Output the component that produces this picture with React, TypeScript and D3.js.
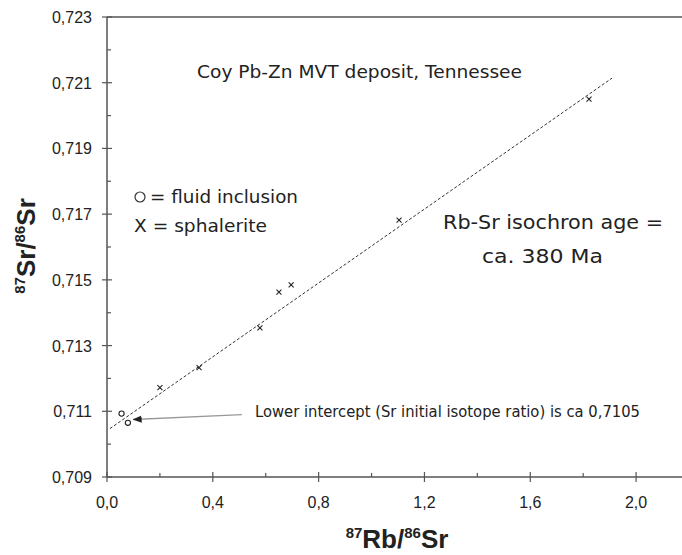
import * as d3 from "d3";

// sphalerite (X) samples: 87Rb/86Sr vs 87Sr/86Sr
const sphRb = [0.2, 0.348, 0.578, 0.65, 0.696, 1.104, 1.822];
const sphSr = [0.71172, 0.71233, 0.71354, 0.71463, 0.71485, 0.71682, 0.7205];
// fluid inclusion (o) samples
const fiRb = [0.055, 0.079];
const fiSr = [0.71093, 0.71065];
// isochron fit
const isoX = [0.011, 1.909];
const isoIntercept = 0.71041;
const isoSlope = 0.00562;

const yTicks = [0.709, 0.711, 0.713, 0.715, 0.717, 0.719, 0.721, 0.723];
const yMinor = [0.71, 0.712, 0.714, 0.716, 0.718, 0.72, 0.722];
const xTicks = [0, 0.4, 0.8, 1.2, 1.6, 2.0];
const xMinor = [0.2, 0.6, 1.0, 1.4, 1.8];

const W = 682;
const H = 555;
const axisColor = "#555";
const textFont = "'DejaVu Sans', 'Noto Sans', sans-serif";
const tickFont = "'Liberation Sans', Arial, sans-serif";

export default function App() {
  const x = d3.scaleLinear().domain([0, 2.2]).range([107, 689]);
  const y = d3.scaleLinear().domain([0.709, 0.723]).range([477, 17]);
  const fmt = (v: number, d: number) => v.toFixed(d).replace(".", ",");

  const isoLine = d3
    .line<number>()
    .x((d) => x(d))
    .y((d) => y(isoIntercept + isoSlope * d));

  const arrowFrom = [0.51, 0.7109];
  const arrowTo = [0.1, 0.71075];

  return (
    <svg
      width={W}
      height={H}
      style={{ position: "absolute", left: 0, top: 0, background: "#fff" }}
    >
      <defs>
        <marker
          id="ah"
          viewBox="0 0 10 10"
          refX="9"
          refY="5"
          markerWidth="7"
          markerHeight="7"
          orient="auto"
        >
          <path d="M0,1 L10,5 L0,9 Z" fill="#222" />
        </marker>
      </defs>

      {/* frame: top line, left axis, bottom axis */}
      <line x1={x(0)} x2={W} y1={y(0.723)} y2={y(0.723)} stroke={axisColor} strokeWidth={1.5} />
      <line x1={x(0)} x2={x(0)} y1={y(0.723)} y2={y(0.709)} stroke={axisColor} strokeWidth={1.5} />
      <line x1={x(0)} x2={W} y1={y(0.709)} y2={y(0.709)} stroke={axisColor} strokeWidth={1.5} />

      {yTicks.map((t) => (
        <g key={"y" + t}>
          <line x1={x(0) - 5} x2={x(0) + 5} y1={y(t)} y2={y(t)} stroke={axisColor} strokeWidth={1.2} />
          <text
            x={x(0) - 15}
            y={y(t) + 6}
            textAnchor="end"
            fontFamily={tickFont}
            fontSize={16}
            fill="#222"
          >
            {fmt(t, 3)}
          </text>
        </g>
      ))}
      {yMinor.map((t) => (
        <line key={"ym" + t} x1={x(0)} x2={x(0) + 4} y1={y(t)} y2={y(t)} stroke={axisColor} strokeWidth={1.2} />
      ))}
      {xTicks.map((t) => (
        <g key={"x" + t}>
          <line x1={x(t)} x2={x(t)} y1={y(0.709) - 5} y2={y(0.709) + 5} stroke={axisColor} strokeWidth={1.2} />
          <text
            x={x(t)}
            y={y(0.709) + 31}
            textAnchor="middle"
            fontFamily={tickFont}
            fontSize={16}
            fill="#222"
          >
            {fmt(t, 1)}
          </text>
        </g>
      ))}
      {xMinor.map((t) => (
        <line key={"xm" + t} x1={x(t)} x2={x(t)} y1={y(0.709)} y2={y(0.709) - 4} stroke={axisColor} strokeWidth={1.2} />
      ))}

      {/* isochron */}
      <path d={isoLine(isoX) ?? ""} fill="none" stroke="#333" strokeWidth={1} strokeDasharray="3,2" />

      {/* sphalerite points */}
      {sphRb.map((r, i) => (
        <path
          key={"s" + i}
          d={`M${x(r) - 2.5},${y(sphSr[i]) - 2.5}L${x(r) + 2.5},${y(sphSr[i]) + 2.5}M${x(r) - 2.5},${y(sphSr[i]) + 2.5}L${x(r) + 2.5},${y(sphSr[i]) - 2.5}`}
          stroke="#222"
          strokeWidth={1.1}
        />
      ))}
      {/* fluid inclusion points */}
      {fiRb.map((r, i) => (
        <circle key={"f" + i} cx={x(r)} cy={y(fiSr[i])} r={2.6} fill="none" stroke="#222" strokeWidth={1.1} />
      ))}

      {/* arrow annotation */}
      <line
        x1={x(arrowFrom[0])}
        y1={y(arrowFrom[1])}
        x2={x(arrowTo[0])}
        y2={y(arrowTo[1])}
        stroke="#999"
        strokeWidth={1.3}
        markerEnd="url(#ah)"
      />
      <text x={255} y={417} fontFamily={textFont} fontSize={15} fill="#222" textLength={385} lengthAdjust="spacingAndGlyphs">
        Lower intercept (Sr initial isotope ratio) is ca 0,7105
      </text>

      <text x={197} y={78} fontFamily={textFont} fontSize={17} fill="#222" textLength={325} lengthAdjust="spacingAndGlyphs">
        Coy Pb-Zn MVT deposit, Tennessee
      </text>
      <circle cx={140} cy={197} r={5} fill="none" stroke="#333" strokeWidth={1.2} />
      <text x={150} y={203} fontFamily={textFont} fontSize={17} fill="#222" textLength={148} lengthAdjust="spacingAndGlyphs">
        = fluid inclusion
      </text>
      <text x={134} y={232} fontFamily={textFont} fontSize={17} fill="#222" textLength={133} lengthAdjust="spacingAndGlyphs">
        X = sphalerite
      </text>
      <text x={443} y={229} fontFamily={textFont} fontSize={20} fill="#222" textLength={220} lengthAdjust="spacingAndGlyphs">
        Rb-Sr isochron age =
      </text>
      <text x={482} y={263} fontFamily={textFont} fontSize={20} fill="#222" textLength={121} lengthAdjust="spacingAndGlyphs">
        ca. 380 Ma
      </text>

      {/* axis titles */}
      <text
        x={397}
        y={548}
        textAnchor="middle"
        fontFamily={tickFont}
        fontWeight="bold"
        fontSize={26}
        fill="#222"
      >
        <tspan fontSize={15} dy={-10}>87</tspan>
        <tspan dy={10}>Rb/</tspan>
        <tspan fontSize={15} dy={-10}>86</tspan>
        <tspan dy={10}>Sr</tspan>
      </text>
      <text
        transform="translate(35,246) rotate(-90)"
        textAnchor="middle"
        fontFamily={tickFont}
        fontWeight="bold"
        fontSize={26}
        fill="#222"
      >
        <tspan fontSize={15} dy={-10}>87</tspan>
        <tspan dy={10}>Sr/</tspan>
        <tspan fontSize={15} dy={-10}>86</tspan>
        <tspan dy={10}>Sr</tspan>
      </text>
    </svg>
  );
}
